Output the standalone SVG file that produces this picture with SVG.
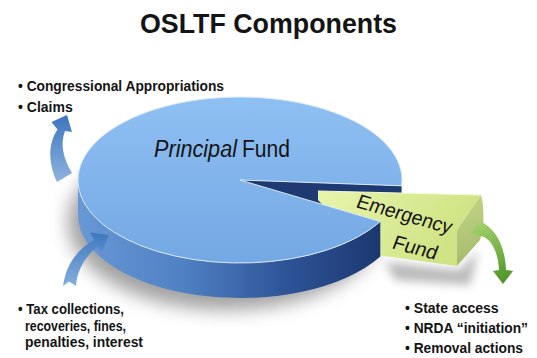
<svg xmlns="http://www.w3.org/2000/svg" width="537" height="358" viewBox="0 0 537 358">
<style>
.t{font-family:"Liberation Sans",Arial,sans-serif;fill:#141414}
.b{font-size:14px;font-weight:bold}
</style>
<defs>
<linearGradient id="topG" gradientUnits="userSpaceOnUse" x1="0" y1="97" x2="0" y2="263"><stop offset="0" stop-color="#8fc0f3"/><stop offset="1" stop-color="#74a8e4"/></linearGradient>
<linearGradient id="sideG" gradientUnits="userSpaceOnUse" x1="78" y1="0" x2="381" y2="0"><stop offset="0" stop-color="#6898d6"/><stop offset="0.35" stop-color="#4f80c2"/><stop offset="0.7" stop-color="#2d5296"/><stop offset="1" stop-color="#1c376f"/></linearGradient>
<linearGradient id="faceG" gradientUnits="userSpaceOnUse" x1="330" y1="190" x2="430" y2="265"><stop offset="0" stop-color="#e6f4aa"/><stop offset="1" stop-color="#d0e485"/></linearGradient>
<linearGradient id="outerG" gradientUnits="userSpaceOnUse" x1="460" y1="200" x2="482" y2="262"><stop offset="0" stop-color="#c2d486"/><stop offset="1" stop-color="#a3ba6c"/></linearGradient>
<linearGradient id="arrA" gradientUnits="userSpaceOnUse" x1="0" y1="115" x2="0" y2="183"><stop offset="0" stop-color="#3c75be"/><stop offset="1" stop-color="#8fb5df"/></linearGradient>
<linearGradient id="arrB" gradientUnits="userSpaceOnUse" x1="0" y1="233" x2="0" y2="287"><stop offset="0" stop-color="#3f78c0"/><stop offset="1" stop-color="#88b0dc"/></linearGradient>
<linearGradient id="arrC" gradientUnits="userSpaceOnUse" x1="475" y1="222" x2="503" y2="284"><stop offset="0" stop-color="#a6d46c"/><stop offset="1" stop-color="#4e9328"/></linearGradient>
<filter id="blur" x="-40%" y="-40%" width="180%" height="180%"><feGaussianBlur stdDeviation="9"/></filter>
<filter id="blur2" x="-40%" y="-40%" width="180%" height="180%"><feGaussianBlur stdDeviation="5"/></filter>
</defs>
<rect width="537" height="358" fill="#ffffff"/>

<g id="title"><text class="t" x="140" y="33" font-size="28" font-weight="bold" textLength="257" lengthAdjust="spacingAndGlyphs">OSLTF Components</text></g>

<g id="shadows">
<ellipse cx="226" cy="222" rx="158" ry="88" fill="#555" opacity="0.55" filter="url(#blur)"/>
<path d="M385,262 L460,270 L478,250 L470,285 L395,280 Z" fill="#666" opacity="0.45" filter="url(#blur2)"/>
</g>

<g id="principal-fund">
<path d="M240,180 L401.6,185.8 L401.6,220.8 L240,215 Z" fill="#1f3a72"/>
</g>

<g id="emergency-fund">
<path d="M318,191 L481,195 L457,230 L457,266 L370,254 L318,200 Z" fill="url(#faceG)"/>
<path d="M318,191 L481,195" stroke="#f2fad0" stroke-width="1.2" fill="none"/>
<path d="M481,195 C484,205 485,225 480,240 L457,266 L457,230 Z" fill="url(#outerG)"/>
<text class="t" font-size="20" textLength="98" lengthAdjust="spacingAndGlyphs" transform="translate(355,207) rotate(16) skewX(-6)">Emergency</text>
<text class="t" font-size="20" transform="translate(391,248) rotate(15) skewX(-6)">Fund</text>
</g>

<g id="principal-fund-body">
<path d="M380.3,221.5 A162,83 0 0,1 78,180 L78,215 A162,83 0 0,0 380.3,256.5 Z" fill="url(#sideG)"/>
<path d="M240,180 L380.3,221.5 A162,83 0 1,1 401.6,185.8 Z" fill="url(#topG)" stroke="#dbe9f8" stroke-width="1" stroke-linejoin="round"/>
<text class="t" x="154" y="157" font-size="23" font-style="italic" textLength="83" lengthAdjust="spacingAndGlyphs">Principal</text>
<text class="t" x="242" y="157" font-size="23" textLength="48" lengthAdjust="spacingAndGlyphs">Fund</text>
</g>

<g id="connectors">
<path d="M67,115 L51.5,122 L57.5,129.5 C49,142 47,160 57,182 L72,173 C63,158 60,144 65,131 L72,132 Z" fill="url(#arrA)"/>
<path d="M109,235 L90,232.5 L94,240 C78,249 66,264 63,286 L69,281.5 L76,286 C77,270 85,257 97,247 L102,252 Z" fill="url(#arrB)"/>
<path d="M471,233 L480,221 C495,228 505,245 506,270 L513,271 L503,284 L493,271 L499,270 C498,252 492,241 484,237 Z" fill="url(#arrC)"/>
</g>

<g id="label-sources">
<text class="t b" x="18" y="91" textLength="206" lengthAdjust="spacingAndGlyphs">• Congressional Appropriations</text>
<text class="t b" x="18" y="111.5">• Claims</text>
</g>

<g id="label-revenues">
<text class="t b" x="18" y="314" textLength="106" lengthAdjust="spacingAndGlyphs">• Tax collections,</text>
<text class="t b" x="25" y="330.5" textLength="101" lengthAdjust="spacingAndGlyphs">recoveries, fines,</text>
<text class="t b" x="25" y="347" textLength="118" lengthAdjust="spacingAndGlyphs">penalties, interest</text>
</g>

<g id="label-uses">
<text class="t b" x="405" y="312.5">• State access</text>
<text class="t b" x="405" y="332.5" textLength="123" lengthAdjust="spacingAndGlyphs">• NRDA “initiation”</text>
<text class="t b" x="405" y="352.5" textLength="118" lengthAdjust="spacingAndGlyphs">• Removal actions</text>
</g>
</svg>
